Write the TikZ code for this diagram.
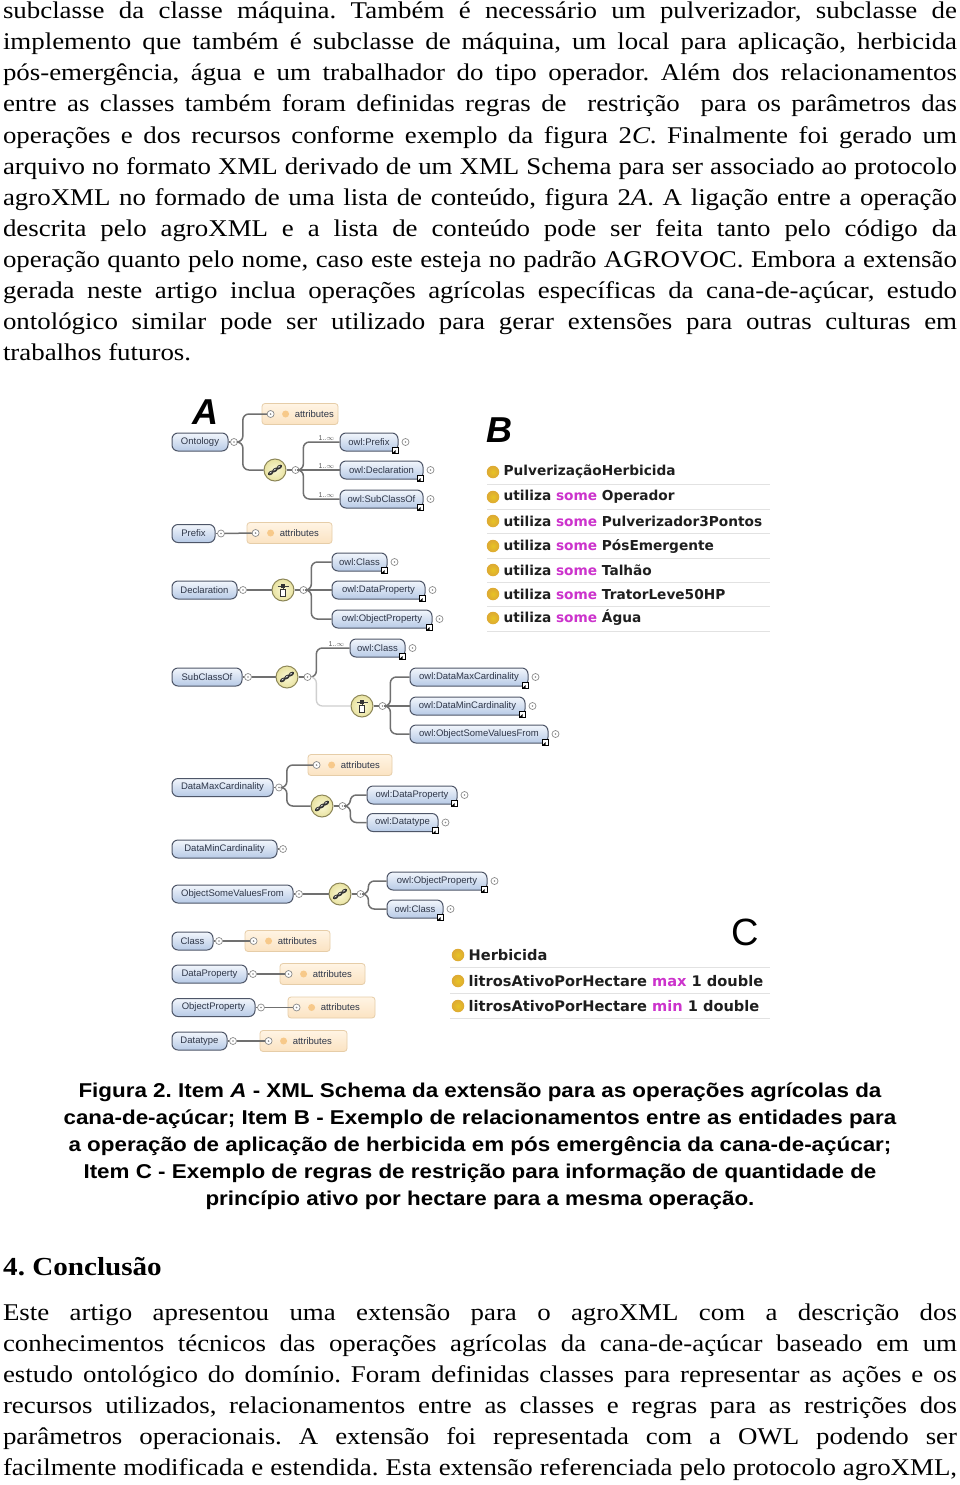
\documentclass[tikz,border=0pt]{standalone}
\usepackage{graphicx}
\usepackage{fontspec}
\setmainfont{Liberation Serif}
\newfontfamily\arialf{Liberation Sans}
\newfontfamily\dejavu{DejaVu Sans}
\usetikzlibrary{calc}
\frenchspacing
\definecolor{pillline}{HTML}{4E5668}
\definecolor{pilltop}{HTML}{F2F6FC}
\definecolor{pillbot}{HTML}{B7CAE6}
\definecolor{pilltext}{HTML}{2E3648}
\definecolor{attrline}{HTML}{E6CDA8}
\definecolor{attrtop}{HTML}{FFF4E4}
\definecolor{attrbot}{HTML}{FBE3C2}
\definecolor{attrdotc}{HTML}{F7C98A}
\definecolor{expline}{HTML}{8A8A8A}
\definecolor{iconline}{HTML}{8C8658}
\definecolor{icontop}{HTML}{FBF8D6}
\definecolor{iconbot}{HTML}{E8E2A0}
\definecolor{connc}{HTML}{707070}
\definecolor{connlc}{HTML}{CFCFCF}
\definecolor{multc}{HTML}{555555}
\definecolor{goldc}{HTML}{DDA934}
\definecolor{somec}{HTML}{CC33CC}
\definecolor{sepc}{HTML}{E2E2E2}
\definecolor{rowc}{HTML}{1E1E1E}
\newcommand\jline[3]{\node[bodytxt] (#1) at (3,#2) {\scalebox{1.12}[1]{\makebox[851.8pt][s]{#3}}};}
\newcommand\capline[3]{\node[captxt] (#1) at (480,#2) {\scalebox{1.12}[1]{#3}};}
\newcommand\pillnode[5]{\node[pill, minimum width=#4pt] (#1) at (#2,#3) {#5};
  \node[exp] (#1e) at ([xshift=5.5pt]#1.east) {};
  \draw[conn] (#1.east) -- (#1e.west);}
\newcommand\owlnode[5]{\node[pill, minimum width=#4pt] (#1) at (#2,#3) {#5};
  \node[linkic] (#1l) at ([xshift=-3pt,yshift=1.5pt]#1.south east) {};
  \node[exp] (#1e) at ([xshift=7pt]#1.east) {};}
\newcommand\attrbox[4]{\node[attr, minimum width=#4pt] (#1) at (#2,#3) {};
  \node[exp] (#1c) at ([xshift=9pt]#1.west) {};
  \node[attrdot] (#1d) at ([xshift=24pt]#1.west) {};
  \node[attrtxt] (#1t) at ([xshift=33pt]#1.west) {attributes};}
\newcommand\seqicon[3]{\node[icon] (#1) at (#2,#3) {};
  \begin{scope}[shift={(#1.center)}, x=1pt, y=1pt]
    \draw[black!75, line width=0.8pt] (-6.5,-4.5) -- (6.5,4.5);
    \foreach \t in {-1,0,1}{\fill[black!80, rotate around={35:(\t*4.2,\t*2.9)}] (\t*4.2,\t*2.9) ellipse (3.2pt and 1.9pt);
      \fill[white!70!gray, rotate around={35:(\t*4.2,\t*2.9)}] (\t*4.2,\t*2.9+0.4) ellipse (1.6pt and 0.6pt);}
  \end{scope}
  \node[exp] (#1e) at ([xshift=9pt]#1.east) {};
  \draw[conn] (#1.east) -- (#1e.west);}
\newcommand\choiceicon[3]{\node[icon] (#1) at (#2,#3) {};
  \begin{scope}[shift={(#1.center)}, x=1pt, y=1pt]
    \draw[black!75, line width=0.8pt] (-5.5,4) -- (5.5,4);
    \fill[black!80] (-2,2.3) rectangle (2,5.7);
    \draw[black!75, line width=0.8pt] (0,2.3) -- (0,0.5);
    \draw[black!80, line width=0.8pt, fill=white] (-2.6,0.5) rectangle (2.6,-6);
  \end{scope}
  \node[exp] (#1e) at ([xshift=9pt]#1.east) {};
  \draw[conn] (#1.east) -- (#1e.west);}
\newcommand\brow[5][rowtxt]{\node[bdot] (#2d) at (#3,#4) {};
  \node[#1] (#2) at ([xshift=4pt]#2d.east) {#5};}
\begin{document}
\begin{tikzpicture}[x=1pt,y=-1pt,
  bodytxt/.style={anchor=base west, inner sep=0pt, outer sep=0pt, font=\fontsize{24}{31}\selectfont},
  captxt/.style={anchor=base, inner sep=0pt, font=\arialf\bfseries\fontsize{20}{27}\selectfont},
  pill/.style={draw=pillline, line width=1pt, rounded corners=6pt, top color=pilltop, bottom color=pillbot, minimum height=18pt, inner sep=1.5pt, font=\arialf\fontsize{9.5}{10}\selectfont, text=pilltext},
  attr/.style={draw=attrline, line width=0.8pt, rounded corners=3pt, top color=attrtop, bottom color=attrbot, minimum height=21pt, inner sep=0pt},
  attrdot/.style={circle, fill=attrdotc, minimum size=7pt, inner sep=0pt},
  attrtxt/.style={anchor=west, inner sep=0pt, font=\arialf\fontsize{9.5}{10}\selectfont, text=pilltext},
  exp/.style={circle, draw=expline, line width=0.7pt, fill=white, minimum size=7pt, inner sep=0pt, path picture={\fill[expline] (path picture bounding box.center) circle (0.9pt);}},
  icon/.style={circle, draw=iconline, line width=1pt, inner color=icontop, outer color=iconbot, minimum size=22pt, inner sep=0pt},
  conn/.style={draw=connc, line width=1.5pt, rounded corners=6pt},
  connl/.style={draw=connlc, line width=1.3pt, rounded corners=6pt},
  linkic/.style={draw=black, fill=white, line width=0.7pt, minimum size=6pt, inner sep=0pt, path picture={\fill[black] (path picture bounding box.south west) -- (path picture bounding box.center) -- (path picture bounding box.south) -- cycle;}},
  mult/.style={anchor=south, inner sep=0pt, font=\arialf\fontsize{7}{8}\selectfont, text=multc},
  bigletter/.style={inner sep=0pt, font=\arialf\bfseries\itshape\fontsize{36}{40}\selectfont},
  bdot/.style={circle, inner color=goldc!70!yellow, outer color=goldc, minimum size=12.5pt, inner sep=0pt},
  rowtxt/.style={anchor=west, inner sep=0pt, font=\dejavu\bfseries\fontsize{13.7}{15}\selectfont, text=rowc},
  rowtxtc/.style={rowtxt, font=\dejavu\bfseries\fontsize{14.6}{16}\selectfont},
  sep/.style={draw=sepc, line width=1pt},
  headtxt/.style={anchor=base west, inner sep=0pt, font=\bfseries\fontsize{26}{31}\selectfont}]
\fill[white] (0,0) rectangle (960,1485);
\useasboundingbox (0,0) rectangle (960,1485);

% ---------- top paragraph ----------
\jline{t1}{19}{subclasse da classe máquina. Também é necessário um pulverizador, subclasse de}
\jline{t2}{50}{implemento que também é subclasse de máquina, um local para aplicação, herbicida}
\jline{t3}{81}{pós-emergência, água e um trabalhador do tipo operador. Além dos relacionamentos}
\jline{t4}{112}{entre as classes também foram definidas regras de \ restrição \ para os parâmetros das}
\jline{t5}{143}{operações e dos recursos conforme exemplo da figura 2\textit{C}. Finalmente foi gerado um}
\jline{t6}{174}{arquivo no formato XML derivado de um XML Schema para ser associado ao protocolo}
\jline{t7}{205}{agroXML no formado de uma lista de conteúdo, figura 2\textit{A}. A ligação entre a operação}
\jline{t8}{236}{descrita pelo agroXML e a lista de conteúdo pode ser feita tanto pelo código da}
\jline{t9}{267}{operação quanto pelo nome, caso este esteja no padrão AGROVOC. Embora a extensão}
\jline{t10}{298}{gerada neste artigo inclua operações agrícolas específicas da cana-de-açúcar, estudo}
\jline{t11}{329}{ontológico similar pode ser utilizado para gerar extensões para outras culturas em}
\node[bodytxt] (t12) at (3,360) {\scalebox{1.12}[1]{trabalhos futuros.}};

% ---------- Figure A ----------
\node[bigletter] (lA) at (205,412) {A};

\pillnode{ont}{200}{442}{56}{Ontology}
\attrbox{at1}{300}{414}{76}
\seqicon{s1}{275}{470}
\owlnode{op}{369}{442}{58}{owl:Prefix}
\owlnode{odc}{381.5}{470}{83}{owl:Declaration}
\owlnode{osc}{381.5}{499}{83}{owl:SubClassOf}
\draw[conn] (onte.east) -- ++(5,0) |- (at1c.west);
\draw[conn] (onte.east) -- ++(5,0) |- (s1.west);
\draw[conn] (s1e.east) -- ++(4,0) |- (op.west);
\draw[conn] (s1e.east) -- (odc.west);
\draw[conn] (s1e.east) -- ++(4,0) |- (osc.west);
\node[mult] (m1) at ([xshift=-13pt,yshift=1pt]op.west) {1..$\infty$};
\node[mult] (m2) at ([xshift=-13pt,yshift=1pt]odc.west) {1..$\infty$};
\node[mult] (m3) at ([xshift=-13pt,yshift=1pt]osc.west) {1..$\infty$};

\pillnode{pre}{193.5}{533.5}{43}{Prefix}
\attrbox{at2}{289.5}{533}{85}
\draw[conn] (pree.east) -- (at2c.west);

\pillnode{dec}{204.5}{590}{65}{Declaration}
\choiceicon{c1}{283}{590}
\draw[conn] (dece.east) -- (c1.west);
\owlnode{oc1}{359.5}{562}{55}{owl:Class}
\owlnode{odp1}{378.5}{590}{93}{owl:DataProperty}
\owlnode{oop1}{382}{619}{100}{owl:ObjectProperty}
\draw[conn] (c1e.east) -- ++(4,0) |- (oc1.west);
\draw[conn] (c1e.east) -- (odp1.west);
\draw[conn] (c1e.east) -- ++(4,0) |- (oop1.west);

\pillnode{sco}{207}{677}{70}{SubClassOf}
\seqicon{s2}{287}{677}
\draw[conn] (scoe.east) -- (s2.west);
\owlnode{oc2}{377.5}{648}{55}{owl:Class}
\choiceicon{c2}{362}{706}
\draw[conn] (s2e.east) -- ++(5,0) |- (oc2.west);
\draw[connl] (s2e.east) -- ++(5,0) |- (c2.west);
\node[mult] (m4) at ([xshift=-13pt,yshift=1pt]oc2.west) {1..$\infty$};
\owlnode{odmx}{469}{677}{118}{owl:DataMaxCardinality}
\owlnode{odmn}{467.5}{706}{115}{owl:DataMinCardinality}
\owlnode{oosv}{479}{734}{138}{owl:ObjectSomeValuesFrom}
\draw[conn] (c2e.east) -- ++(4,0) |- (odmx.west);
\draw[conn] (c2e.east) -- (odmn.west);
\draw[conn] (c2e.east) -- ++(4,0) |- (oosv.west);

\pillnode{dmx}{222.5}{787.5}{101}{DataMaxCardinality}
\attrbox{at3}{350}{765}{84}
\seqicon{s3}{322}{806}
\draw[conn] (dmxe.east) -- ++(4,0) |- (at3c.west);
\draw[conn] (dmxe.east) -- ++(4,0) |- (s3.west);
\owlnode{odp2}{412}{795}{90}{owl:DataProperty}
\owlnode{odt1}{402.5}{822.5}{71}{owl:Datatype}
\draw[conn] (s3e.east) -- ++(4,0) |- (odp2.west);
\draw[conn] (s3e.east) -- ++(4,0) |- (odt1.west);

\pillnode{dmn}{224.5}{849}{105}{DataMinCardinality}

\pillnode{osv}{232.5}{894}{121}{ObjectSomeValuesFrom}
\seqicon{s4}{340}{894}
\draw[conn] (osve.east) -- (s4.west);
\owlnode{oop2}{437}{881}{100}{owl:ObjectProperty}
\owlnode{oc3}{415}{909}{56}{owl:Class}
\draw[conn] (s4e.east) -- ++(4,0) |- (oop2.west);
\draw[conn] (s4e.east) -- ++(4,0) |- (oc3.west);

\pillnode{cls}{192.5}{941}{41}{Class}
\attrbox{at4}{287.5}{941}{85}
\draw[conn] (clse.east) -- (at4c.west);
\pillnode{dpr}{209.5}{974}{75}{DataProperty}
\attrbox{at5}{322.5}{974}{85}
\draw[conn] (dpre.east) -- (at5c.west);
\pillnode{opr}{213.5}{1007.5}{83}{ObjectProperty}
\attrbox{at6}{331.5}{1007.5}{87}
\draw[conn] (opre.east) -- (at6c.west);
\pillnode{dty}{199.5}{1041}{55}{Datatype}
\attrbox{at7}{303.5}{1041}{87}
\draw[conn] (dtye.east) -- (at7c.west);

% ---------- B ----------
\node[bigletter] (lB) at (499,430) {B};
\brow{b1}{493}{472}{PulverizaçãoHerbicida}
\brow{b2}{493}{497}{utiliza \textcolor{somec}{some} Operador}
\brow{b3}{493}{521}{utiliza \textcolor{somec}{some} Pulverizador3Pontos}
\brow{b4}{493}{546}{utiliza \textcolor{somec}{some} PósEmergente}
\brow{b5}{493}{570}{utiliza \textcolor{somec}{some} Talhão}
\brow{b6}{493}{594}{utiliza \textcolor{somec}{some} TratorLeve50HP}
\brow{b7}{493}{618}{utiliza \textcolor{somec}{some} Água}
\foreach \yy in {484,509,533,558,582,606,631}{\draw[sep] (487,\yy) -- (770,\yy);}

% ---------- C ----------
\node[bigletter, font=\arialf\fontsize{38}{40}\selectfont] (lC) at (745,932) {C};
\brow[rowtxtc]{c1r}{458}{955}{Herbicida}
\brow[rowtxtc]{c2r}{458}{981}{litrosAtivoPorHectare \textcolor{somec}{max} 1 double}
\brow[rowtxtc]{c3r}{458}{1006}{litrosAtivoPorHectare \textcolor{somec}{min} 1 double}
\foreach \yy in {967,993,1018}{\draw[sep] (450,\yy) -- (770,\yy);}

% ---------- caption ----------
\capline{cap1}{1097}{Figura 2. Item \textit{A} - XML Schema da extensão para as operações agrícolas da}
\capline{cap2}{1124}{cana-de-açúcar; Item B - Exemplo de relacionamentos entre as entidades para}
\capline{cap3}{1151}{a operação de aplicação de herbicida em pós emergência da cana-de-açúcar;}
\capline{cap4}{1178}{Item C - Exemplo de regras de restrição para informação de quantidade de}
\capline{cap5}{1205}{princípio ativo por hectare para a mesma operação.}

% ---------- section ----------
\node[headtxt] (h4) at (3,1275) {\scalebox{1.12}[1]{4. Conclusão}};
\jline{u1}{1320}{Este artigo apresentou uma extensão para o agroXML com a descrição dos}
\jline{u2}{1351}{conhecimentos técnicos das operações agrícolas da cana-de-açúcar baseado em um}
\jline{u3}{1382}{estudo ontológico do domínio. Foram definidas classes para representar as ações e os}
\jline{u4}{1413}{recursos utilizados, relacionamentos entre as classes e regras para as restrições dos}
\jline{u5}{1444}{parâmetros operacionais. A extensão foi representada com a OWL podendo ser}
\jline{u6}{1475}{facilmente modificada e estendida. Esta extensão referenciada pelo protocolo agroXML,}
\end{tikzpicture}
\end{document}
